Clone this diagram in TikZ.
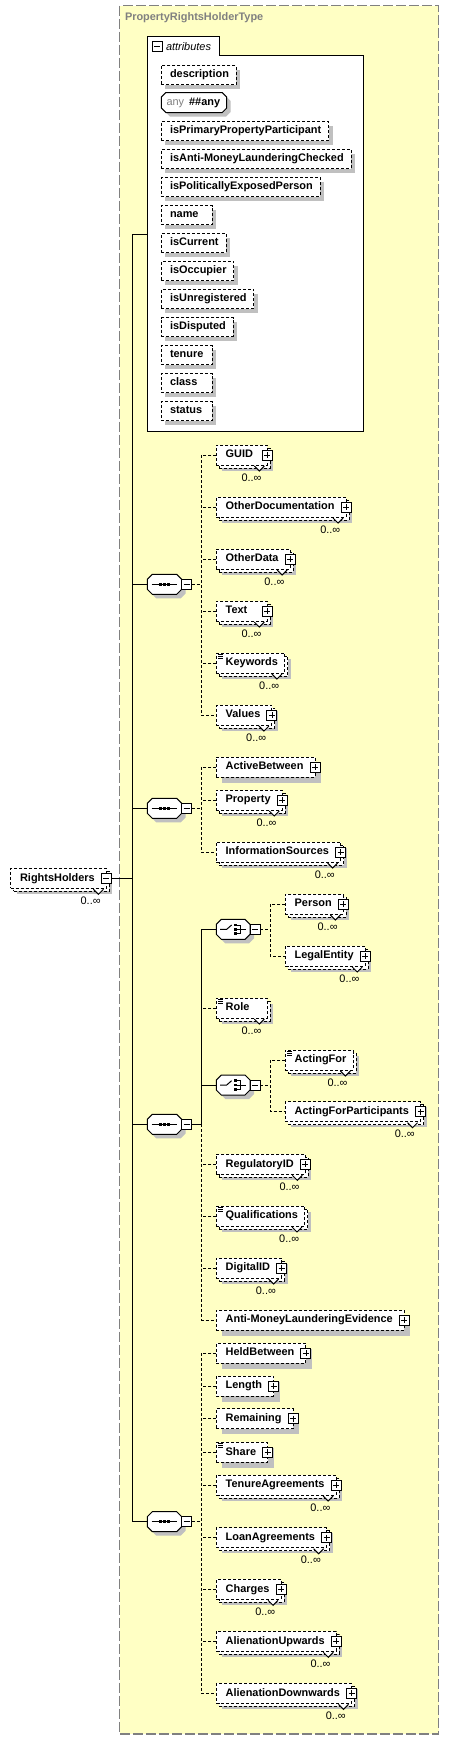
\documentclass[tikz,border=0pt]{standalone}
\usepackage{fontspec}
\setmainfont{Liberation Sans}
\usepackage{xcolor}
\usepackage{tikz}
\usetikzlibrary{positioning,calc,shadows}

\newlength\pxu
\setlength\pxu{0.75pt}
\newsavebox\lblbox
\newcommand\fsz{\fontsize{8.2pt}{10pt}\selectfont}
% octagon outline: width, chamfer
\newcommand\octpath[2]{(#2,-10) -- (#1-#2,-10) -- (#1,-10+#2) -- (#1,10-#2) -- (#1-#2,10) -- (#2,10) -- (0,10-#2) -- (0,-10+#2) -- cycle}

\definecolor{panelfill}{RGB}{255,255,196}
\definecolor{panelline}{RGB}{128,128,128}
\definecolor{shadegray}{RGB}{192,192,192}

\tikzset{
  dsh/.style={dash pattern=on 3\pxu off 2\pxu},
  btn/.style={draw,solid,fill=white,minimum size=10\pxu,inner sep=0pt,outer sep=0pt},
  minusbtn/.style={btn,path picture={
      \draw[line width=0.6pt] ($(path picture bounding box.west)+(2,0)$) -- ($(path picture bounding box.east)+(-2,0)$);}},
  plusbtn/.style={btn,path picture={
      \draw[line width=0.6pt] ($(path picture bounding box.west)+(2,0)$) -- ($(path picture bounding box.east)+(-2,0)$)
        ($(path picture bounding box.north)+(0,2)$) -- ($(path picture bounding box.south)+(0,-2)$);}},
  pads/.style n args={3}{execute at begin node={\setbox\lblbox\hbox\bgroup},
    execute at end node={\egroup\hspace*{#1\pxu}\usebox\lblbox
      \ifdim\wd\lblbox<#2\pxu\hspace*{\dimexpr#2\pxu-\wd\lblbox\relax}\fi\hspace*{#3\pxu}}},
  attr/.style={draw,dsh,fill=white,font=\fsz\bfseries,anchor=west,inner sep=0pt,outer sep=0pt,
    minimum height=19\pxu,text height=6pt,text depth=1.6pt,pads={8.7}{35}{7.4},
    drop shadow={shadow xshift=4\pxu,shadow yshift=-4\pxu,fill=shadegray,opacity=1}},
  elbase/.style={draw,dsh,fill=white,font=\fsz\bfseries,anchor=west,inner sep=0pt,outer sep=0pt,
    minimum height=20\pxu,text height=6pt,text depth=1.6pt,alias=cur,
    drop shadow={shadow xshift=6\pxu,shadow yshift=-5.5\pxu,fill=shadegray,opacity=1}},
  elem/.style={elbase,pads={9.4}{30}{11.6}},
  leaf/.style={elbase,pads={9.4}{34.6}{7}},
  expand/.style={append after command={node[plusbtn] at (cur.east) {}}},
  mult/.style={preaction={draw,fill=white,transform canvas={xshift=3\pxu,yshift=-3\pxu}},
    append after command={node[occurs] at ([xshift=-5.3\pxu,yshift=-13.3\pxu]cur.south east) {0..∞}
      pic at (cur.south east) {notch}}},
  doc/.style={append after command={pic at (cur.north west) {docmark}}},
  occurs/.style={font=\fsz,anchor=east,inner sep=0pt,text height=6pt,text depth=1.6pt},
  notch/.pic={\fill[white] (-13,1) -- (-8,6) -- (-3,1) -- cycle;
    \draw[solid] (-13,1) -- (-8,6) -- (-3,1);},
  docmark/.pic={\draw[solid,line width=0.6\pxu] (2,1) -- ++(4.5,0) (2,3) -- ++(4.5,0) (2,5) -- ++(4.5,0);},
  anyoct/.pic={\fill[shadegray,shift={(4,4)}] \octpath{65.4}{4.5};
    \draw[fill=white] \octpath{65.4}{4.5};},
  seq/.pic={\fill[shadegray,shift={(4,4)}] \octpath{34.4}{5};
    \draw[fill=white] \octpath{34.4}{5};
    \draw (4.4,0) -- (30,0);
    \foreach \s in {13.2,17.2,21.2} \fill (\s-1.5,-1.5) rectangle ++(3,3);
    \coordinate (-in) at (0,0);
    \node[minusbtn,anchor=west] (-btn) at (34.4,0) {};},
  choice/.pic={\fill[shadegray,shift={(4,4)}] \octpath{33.7}{5};
    \draw[fill=white] \octpath{33.7}{5};
    \draw (3.7,0) -- (10.4,0) -- (15.3,-4.3);
    \foreach \s in {-4.3,0,4.3} \fill (17.5,\s-1.4) rectangle ++(2.8,2.8);
    \draw (20.3,-4.3) -- (24.5,-4.3) -- (24.5,4.3) -- (20.3,4.3) (20.3,0) -- (29.7,0);
    \coordinate (-in) at (0,0);
    \node[minusbtn,anchor=west] (-btn) at (33.7,0) {};}
}

\begin{document}
\begin{tikzpicture}[x=0.75pt,y=-0.75pt,line width=1\pxu]
	\useasboundingbox (0,0) rectangle (449,1739);
	
	% complex type panel
	\fill[panelfill] (119.5,5.5) rectangle (438.5,1734);
	\draw[panelline,line width=1.3\pxu,dash pattern=on 10\pxu off 3\pxu] (119.5,5.5) rectangle (438.5,1734);
	\node[anchor=west,inner sep=0pt,font=\fsz\bfseries,text=panelline] (title) at (124.5,18) {PropertyRightsHolderType};
	
	% attributes group
	\draw[fill=white] (147.3,431.3) -- (147.3,36.3) -- (219.3,36.3) -- (219.3,55.3) -- (363.3,55.3) -- (363.3,431.3) -- cycle;
	\node[minusbtn] (attrbtn) at (157,46.5) {};
	\node[anchor=west,inner sep=0pt,font=\fsz\itshape] (attrlbl) at (165.5,46.5) {attributes};
	\coordinate (attrin) at (147.3,234.3);
	
	\foreach \y/\a in {75/description,131/isPrimaryPropertyParticipant,159/isAnti-MoneyLaunderingChecked,
	    187/isPoliticallyExposedPerson,215/name,243/isCurrent,271/isOccupier,299/isUnregistered,
	    327/isDisputed,355/tenure,383/class,411/status}
	  \node[attr] (\a) at (161.3,\y) {\a};
	
	% wildcard attribute
	\pic at (161.3,102.5) {anyoct};
	\node[anchor=west,inner sep=0pt,font=\fsz\bfseries,text height=6pt,text depth=1.6pt] (anyattr) at (166,102.5)
	  {\textcolor{panelline}{\mdseries any}\hspace*{5\pxu}\#\#any};
	
	% the element itself
	\node[elem,mult] (RightsHolders) at (10.7,878.3) {RightsHolders};
	\node[minusbtn] (rhbtn) at (RightsHolders.east) {};
	
	% compositors
	\pic (seqA) at (147.3,584.3) {seq};
	\pic (seqB) at (147.3,808.3) {seq};
	\pic (seqC) at (147.3,1124.3) {seq};
	\pic (seqD) at (147.3,1521.7) {seq};
	\pic (chA) at (216.3,929.3) {choice};
	\pic (chB) at (216.3,1085) {choice};
	
	% first sequence
	\node[elem,expand,mult] (GUID) at (216.3,455) {GUID};
	\node[elem,expand,mult] (OtherDocumentation) at (216.3,507) {OtherDocumentation};
	\node[elem,expand,mult] (OtherData) at (216.3,559) {OtherData};
	\node[elem,expand,mult] (Text) at (216.3,611) {Text};
	\node[leaf,doc,mult] (Keywords) at (216.3,663) {Keywords};
	\node[elem,expand,mult] (Values) at (216.3,715) {Values};
	
	% second sequence
	\node[elem,expand] (ActiveBetween) at (216.3,767) {ActiveBetween};
	\node[elem,expand,mult] (Property) at (216.3,800) {Property};
	\node[elem,expand,mult] (InformationSources) at (216.3,852) {InformationSources};
	
	% third sequence
	\node[elem,expand,mult] (Person) at (285.3,904) {Person};
	\node[elem,expand,mult] (LegalEntity) at (285.3,956) {LegalEntity};
	\node[leaf,doc,mult] (Role) at (216.3,1008) {Role};
	\node[leaf,doc,mult] (ActingFor) at (285.3,1060) {ActingFor};
	\node[elem,expand,mult] (ActingForParticipants) at (285.3,1111.7) {ActingForParticipants};
	\node[elem,expand,mult] (RegulatoryID) at (216.3,1164.3) {RegulatoryID};
	\node[leaf,doc,mult] (Qualifications) at (216.3,1216) {Qualifications};
	\node[elem,expand,mult] (DigitalID) at (216.3,1268) {DigitalID};
	\node[elem,expand] (AMLEvidence) at (216.3,1320) {Anti-MoneyLaunderingEvidence};
	
	% fourth sequence
	\node[elem,expand] (HeldBetween) at (216.3,1353) {HeldBetween};
	\node[elem,expand] (Length) at (216.3,1386) {Length};
	\node[elem,expand] (Remaining) at (216.3,1418.7) {Remaining};
	\node[elem,expand,doc] (Share) at (216.3,1452.3) {Share};
	\node[elem,expand,mult] (TenureAgreements) at (216.3,1485) {TenureAgreements};
	\node[elem,expand,mult] (LoanAgreements) at (216.3,1537.7) {LoanAgreements};
	\node[elem,expand,mult] (Charges) at (216.3,1589.3) {Charges};
	\node[elem,expand,mult] (AlienationUpwards) at (216.3,1641.3) {AlienationUpwards};
	\node[elem,expand,mult] (AlienationDownwards) at (216.3,1693.3) {AlienationDownwards};
	
	% spine
	\coordinate (spine) at (132.3,234.3);
	\draw (attrin) -- (spine) |- (seqD-in);
	\draw (spine |- seqA-in) -- (seqA-in);
	\draw (spine |- seqB-in) -- (seqB-in);
	\draw (spine |- seqC-in) -- (seqC-in);
	\draw (rhbtn) -- (spine |- rhbtn);
	
	% first sequence links
	\draw[dsh] (seqA-btn.east) -- ++(9.6,0);
	\draw[dsh] (GUID.west) -- ++(-15,0) |- (Values.west);
	\foreach \n in {OtherDocumentation,OtherData,Text,Keywords}
	  \draw[dsh] (\n.west) -- ++(-15,0);
	
	% second sequence links
	\draw[dsh] (seqB-btn.east) -- ++(9.6,0);
	\draw[dsh] (ActiveBetween.west) -- ++(-15,0) |- (InformationSources.west);
	\draw[dsh] (Property.west) -- ++(-15,0);
	
	% third sequence links
	\coordinate (jC) at ($(seqC-btn.east)+(9.6,0)$);
	\draw (seqC-btn.east) -- (jC);
	\draw (chA-in) -| (jC);
	\draw (chB-in) -- (chB-in -| jC);
	\draw[dsh] (jC) |- (AMLEvidence.west);
	\foreach \n in {Role,RegulatoryID,Qualifications,DigitalID}
	  \draw[dsh] (\n.west) -- (\n.west -| jC);
	
	% choices
	\draw[dsh] (chA-btn.east) -- ++(9.6,0);
	\draw[dsh] (Person.west) -- ++(-15,0) |- (LegalEntity.west);
	\draw[dsh] (chB-btn.east) -- ++(9.6,0);
	\draw[dsh] (ActingFor.west) -- ++(-15,0) |- (ActingForParticipants.west);
	
	% fourth sequence links
	\draw[dsh] (seqD-btn.east) -- ++(9.6,0);
	\draw[dsh] (HeldBetween.west) -- ++(-15,0) |- (AlienationDownwards.west);
	\foreach \n in {Length,Remaining,Share,TenureAgreements,LoanAgreements,Charges,AlienationUpwards}
	  \draw[dsh] (\n.west) -- ++(-15,0);
\end{tikzpicture}
\end{document}
